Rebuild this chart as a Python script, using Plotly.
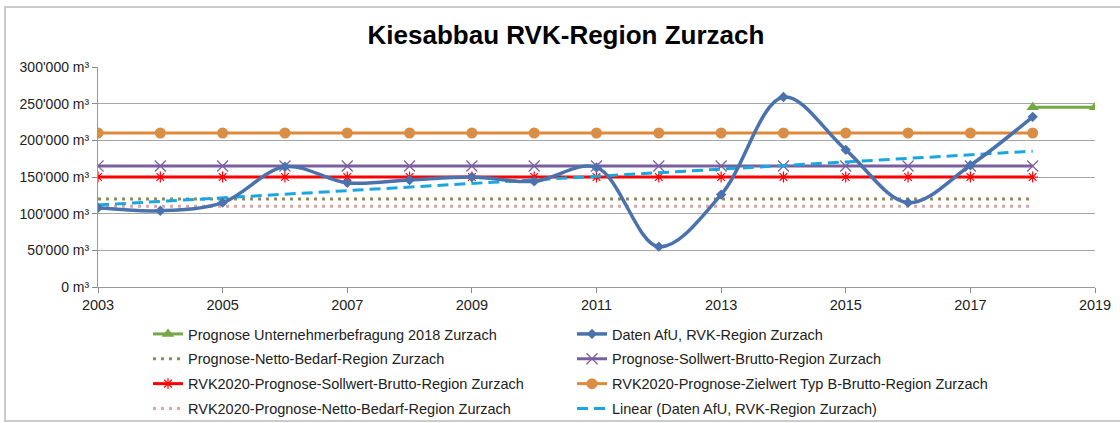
import numpy as np
import plotly.graph_objects as go

years = list(range(2003, 2019))
daten_afu = [108000, 104000, 115000, 164000, 142000, 146000, 150000, 144000,
             163000, 55000, 126000, 259000, 187000, 115000, 166000, 232000]
prognose_umfrage_years = [2018, 2019]
prognose_umfrage = [245000, 245000]
netto_bedarf = [120000] * 16
sollwert_brutto = [165000] * 16
rvk_sollwert = [150000] * 16
rvk_zielwert = [210000] * 16
rvk_netto = [110000] * 16

y_tickvals = [0, 50000, 100000, 150000, 200000, 250000, 300000]
y_ticktext = ["0 m³", "50'000 m³", "100'000 m³", "150'000 m³", "200'000 m³", "250'000 m³", "300'000 m³"]
x_tickvals = [2003, 2005, 2007, 2009, 2011, 2013, 2015, 2017, 2019]

names = {
    "umfrage": "Prognose Unternehmerbefragung 2018 Zurzach",
    "afu": "Daten AfU, RVK-Region Zurzach",
    "netto": "Prognose-Netto-Bedarf-Region Zurzach",
    "soll": "Prognose-Sollwert-Brutto-Region Zurzach",
    "rvksoll": "RVK2020-Prognose-Sollwert-Brutto-Region Zurzach",
    "rvkziel": "RVK2020-Prognose-Zielwert Typ B-Brutto-Region Zurzach",
    "rvknetto": "RVK2020-Prognose-Netto-Bedarf-Region Zurzach",
    "linear": "Linear (Daten AfU, RVK-Region Zurzach)",
}

# linear trend computed from data
coef = np.polyfit(years, daten_afu, 1)
trend = np.polyval(coef, years)

fig = go.Figure()
FONT = "Arial, Liberation Sans, sans-serif"

fig.add_trace(go.Scatter(x=years, y=rvk_netto, name=names["rvknetto"], mode="lines",
                         line=dict(color="#D8A7A5", width=3, dash="3px,5px"),
                         legend="legend", legendgroup="g7", legendrank=4))
fig.add_trace(go.Scatter(x=years, y=netto_bedarf, name=names["netto"], mode="lines",
                         line=dict(color="#8E8A5E", width=3, dash="3px,5px"),
                         legend="legend", legendgroup="g3", legendrank=2))
fig.add_trace(go.Scatter(x=years, y=rvk_sollwert, name=names["rvksoll"], mode="lines+markers",
                         line=dict(color="#FF0000", width=3),
                         marker=dict(symbol="asterisk-open", size=9, color="#FF0000", line=dict(width=1.2, color="#FF0000")),
                         legend="legend", legendgroup="g5", legendrank=3))
fig.add_trace(go.Scatter(x=years, y=sollwert_brutto, name=names["soll"], mode="lines+markers",
                         line=dict(color="#7A5F9E", width=3),
                         marker=dict(symbol="x-thin-open", size=11, color="#7A5F9E", line=dict(width=1.2, color="#7A5F9E")),
                         legend="legend2", legendgroup="g4", legendrank=2))
fig.add_trace(go.Scatter(x=years, y=rvk_zielwert, name=names["rvkziel"], mode="lines+markers",
                         line=dict(color="#E0893A", width=3),
                         marker=dict(symbol="circle", size=11, color="#DA8D45"),
                         legend="legend2", legendgroup="g6", legendrank=3))
fig.add_trace(go.Scatter(x=years, y=trend, name=names["linear"], mode="lines",
                         line=dict(color="#1AA7E0", width=3, dash="11px,6px"),
                         legend="legend2", legendgroup="g8", legendrank=4))
fig.add_trace(go.Scatter(x=years, y=daten_afu, name=names["afu"], mode="lines+markers",
                         line=dict(color="#4A72AC", width=3.5, shape="spline", smoothing=1.0),
                         marker=dict(symbol="diamond", size=8, color="#4A72AC"),
                         legend="legend2", legendgroup="g2", legendrank=1))
fig.add_trace(go.Scatter(x=prognose_umfrage_years, y=prognose_umfrage, name=names["umfrage"], mode="lines+markers",
                         line=dict(color="#74A845", width=3),
                         marker=dict(symbol="triangle-up", size=11, color="#74A845"),
                         legend="legend", legendgroup="g1", legendrank=1))

W, H = 1120, 423
L, R, T, B = 98, 25, 67, 136
pw = W - L - R
ph = H - T - B

def px_x(p):
    return (p - L) / pw

def px_y(p):
    return (H - B - p) / ph

legend_common = dict(orientation="v", font=dict(family=FONT, size=14.5, color="#222"),
                     bgcolor="rgba(0,0,0,0)", tracegroupgap=3, yanchor="top",
                     traceorder="grouped", itemwidth=30)

fig.update_layout(
    width=W, height=H,
    margin=dict(l=L, r=R, t=T, b=B, autoexpand=False),
    paper_bgcolor="white", plot_bgcolor="white",
    font=dict(family=FONT, size=14, color="#333"),
    title=dict(text="<b>Kiesabbau RVK-Region Zurzach</b>", x=px_x(566), xref="paper", xanchor="center",
               y=1 - 35 / H, yref="container", yanchor="middle",
               font=dict(family=FONT, size=26, color="#000")),
    xaxis=dict(range=[2003, 2019], tickvals=x_tickvals, ticks="outside", ticklen=5,
               tickcolor="#888", showline=True, linecolor="#999", linewidth=1,
               showgrid=False, zeroline=False, tickfont=dict(family=FONT, size=14.5, color="#222")),
    yaxis=dict(range=[0, 300000], tickvals=y_tickvals, ticktext=y_ticktext, ticks="outside", ticklen=5,
               tickcolor="#888", showline=True, linecolor="#999", linewidth=1,
               showgrid=True, gridcolor="#A6A6A6", gridwidth=1, zeroline=False,
               tickfont=dict(family=FONT, size=14, color="#222")),
    legend=dict(x=px_x(148), y=px_y(318), **legend_common),
    legend2=dict(x=px_x(572), y=px_y(318), **legend_common),
    shapes=[dict(type="rect", xref="paper", yref="paper",
                 x0=px_x(5), x1=px_x(1130), y0=px_y(421), y1=px_y(7),
                 line=dict(color="#BBBBBB", width=1.5), layer="below")],
    showlegend=True,
)

fig.write_html("out.html", config={"displayModeBar": False},
               post_script="document.body.style.margin='0';document.body.style.padding='0';")
